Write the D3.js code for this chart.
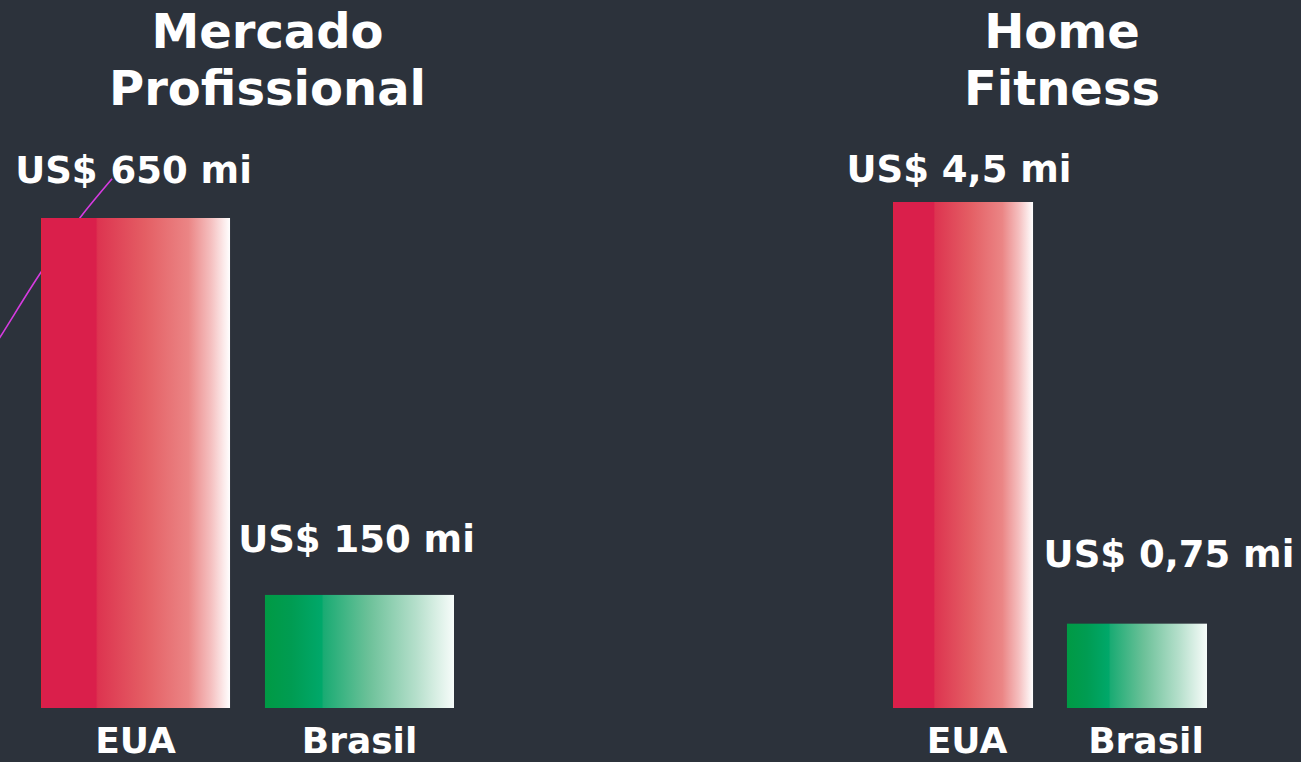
<!DOCTYPE html>
<html>
<head>
<meta charset="utf-8">
<script src="https://cdn.jsdelivr.net/npm/d3@7"></script>
<style>
  html, body { margin: 0; padding: 0; background: #2c323b; }
  svg { display: block; }
  text { font-family: "DejaVu Sans", Verdana, sans-serif; font-weight: bold; fill: #ffffff; }
</style>
</head>
<body>
<svg id="chart" width="1301" height="762"></svg>
<script>
// data
var categories = ['EUA', 'Brasil'];
var panelTitles = [['Mercado', 'Profissional'], ['Home', 'Fitness']];
var proValues = [650, 150];
var homeValues = [4.5, 0.75];
var proLabels = ['US$ 650 mi', 'US$ 150 mi'];
var homeLabels = ['US$ 4,5 mi', 'US$ 0,75 mi'];
// decorative line behind the first panel (x: fraction of panel width, y: value)
var trendX = [-0.16, -0.099, 0, 0.094, 0.172];
var trendY = [440, 492, 578, 650, 702];

var svg = d3.select('#chart');
var defs = svg.append('defs');

function addGradient(id, stops) {
    var g = defs.append('linearGradient')
        .attr('id', id)
        .attr('x1', '0%').attr('x2', '100%')
        .attr('y1', '0%').attr('y2', '0%');
    g.selectAll('stop').data(stops).enter().append('stop')
        .attr('offset', function (d) { return d[0]; })
        .attr('stop-color', function (d) { return d[1]; });
}

addGradient('grad-red', [
    ['0%', '#e3262f'], ['0.6%', '#da1f4b'], ['29%', '#da1f4b'],
    ['30%', '#dd3450'], ['55%', '#e45e64'], ['78%', '#eb8585'],
    ['90%', '#f5c0c0'], ['100%', '#ffffff']
]);
addGradient('grad-green', [
    ['0%', '#009a44'], ['14%', '#009c52'], ['30%', '#00a86a'],
    ['31%', '#1aab73'], ['55%', '#6cc199'], ['80%', '#b5dfcb'],
    ['100%', '#f7fcfa']
]);
var fills = { 'EUA': 'url(#grad-red)', 'Brasil': 'url(#grad-green)' };

var panels = [
    { values: proValues, labels: proLabels, titles: panelTitles[0],
      x0: 41, x1: 454, gap: 0.156, top: 218, titleX: 267.5,
      labelDx: [-2, -3], labelDy: [-35, -43], catDx: [0, 0] },
    { values: homeValues, labels: homeLabels, titles: panelTitles[1],
      x0: 893, x1: 1207, gap: 0.195, top: 202, titleX: 1062,
      labelDx: [-4, 32], labelDy: [-20, -57], catDx: [4, 9] }
];
var baseline = 708;

panels.forEach(function (p, pi) {
    var x = d3.scaleBand().domain(categories).range([p.x0, p.x1])
        .paddingInner(p.gap).paddingOuter(0);
    var y = d3.scaleLinear().domain([0, d3.max(p.values)]).range([baseline, p.top]);
    var rows = categories.map(function (c, i) {
        return { cat: c, value: p.values[i], label: p.labels[i], i: i };
    });
    var g = svg.append('g');

    if (pi === 0) {
        var lx = d3.scaleLinear().domain([0, 1]).range([p.x0, p.x1]);
        var line = d3.line()
            .x(function (d) { return lx(d[0]); })
            .y(function (d) { return y(d[1]); })
            .curve(d3.curveCatmullRom);
        g.append('path')
            .datum(d3.zip(trendX, trendY))
            .attr('d', line)
            .attr('fill', 'none')
            .attr('stroke', '#d63be0')
            .attr('stroke-width', 1.6);
    }

    g.selectAll('rect').data(rows).enter().append('rect')
        .attr('x', function (d) { return x(d.cat); })
        .attr('y', function (d) { return y(d.value); })
        .attr('width', x.bandwidth())
        .attr('height', function (d) { return baseline - y(d.value); })
        .attr('fill', function (d) { return fills[d.cat]; });

    g.selectAll('text.value').data(rows).enter().append('text')
        .attr('class', 'value')
        .attr('x', function (d) { return x(d.cat) + x.bandwidth() / 2 + p.labelDx[d.i]; })
        .attr('y', function (d) { return y(d.value) + p.labelDy[d.i]; })
        .attr('text-anchor', 'middle')
        .style('font-size', '37px')
        .text(function (d) { return d.label; });

    g.selectAll('text.cat').data(rows).enter().append('text')
        .attr('class', 'cat')
        .attr('x', function (d) { return x(d.cat) + x.bandwidth() / 2 + p.catDx[d.i]; })
        .attr('y', 753)
        .attr('text-anchor', 'middle')
        .style('font-size', '36px')
        .text(function (d) { return d.cat; });

    g.selectAll('text.title').data(p.titles).enter().append('text')
        .attr('class', 'title')
        .attr('x', p.titleX)
        .attr('y', function (d, i) { return 48 + i * 57; })
        .attr('text-anchor', 'middle')
        .style('font-size', '48px')
        .text(function (d) { return d; });
});
</script>
</body>
</html>
